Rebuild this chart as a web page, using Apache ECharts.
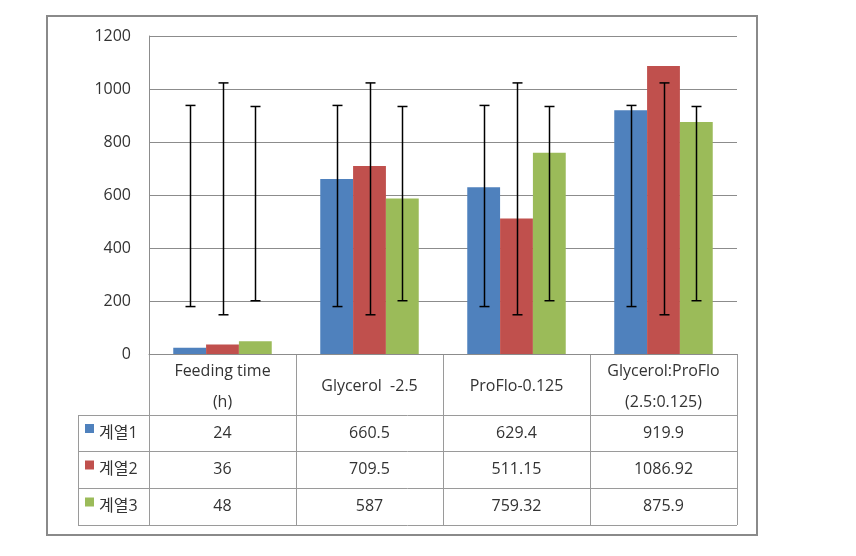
<!DOCTYPE html>
<html><head><meta charset="utf-8">
<script src="https://cdn.jsdelivr.net/npm/echarts@6/dist/echarts.min.js"></script>
<style>html,body{margin:0;padding:0;background:#fff}#c{width:856px;height:556px}</style>
</head><body><div id="c"></div>
<script>
const categories = ['Feeding time\n(h)', 'Glycerol  -2.5', 'ProFlo-0.125', 'Glycerol:ProFlo\n(2.5:0.125)'];
const seriesNames = ['계열1', '계열2', '계열3'];
const series1 = [24, 660.5, 629.4, 919.9];
const series2 = [36, 709.5, 511.15, 1086.92];
const series3 = [48, 587, 759.32, 875.9];
const errLow = [179, 148, 201];
const errHigh = [938, 1023, 934];
const yMin = 0, yMax = 1200, yStep = 200;
const colors = ['#4F81BD', '#C0504D', '#9BBB59'];

const allSeries = [series1, series2, series3];
const FONT = '"Open Sans", "Noto Sans CJK KR", sans-serif';
const FS = 16;
const TXT = '#333333';
const GRID = '#8c8c8c';
const GAP = 0.33;

const chart = echarts.init(document.getElementById('c'), null, {renderer: 'canvas'});

function errSeries(si) {
  return {
    type: 'custom', z: 10, silent: true,
    data: categories.map((c, i) => [i, errLow[si], errHigh[si]]),
    encode: {x: 0, y: [1, 2]},
    renderItem(params, api) {
      const i = api.value(0);
      const lo = api.coord([i, api.value(1)]);
      const hi = api.coord([i, api.value(2)]);
      const band = api.size([1, 0])[0];
      const bw = band * (1 - GAP) / 3;
      const x = Math.round(lo[0] + (si - 1) * bw) + 0.5;
      const cap = 5;
      const st = {stroke: '#000', lineWidth: 1.5};
      return {type: 'group', children: [
        {type: 'line', shape: {x1: x, y1: hi[1], x2: x, y2: lo[1]}, style: st},
        {type: 'line', shape: {x1: x - cap, y1: hi[1], x2: x + cap, y2: hi[1]}, style: st},
        {type: 'line', shape: {x1: x - cap, y1: lo[1], x2: x + cap, y2: lo[1]}, style: st}
      ]};
    }
  };
}

const option = {
  animation: false,
  textStyle: {fontFamily: FONT},
  grid: {left: 149, right: 119, top: 36, bottom: 202},
  xAxis: {
    type: 'category', data: categories,
    axisLine: {show: true, lineStyle: {color: GRID, width: 1}},
    axisTick: {show: false}, axisLabel: {show: false}, splitLine: {show: false}
  },
  yAxis: {
    type: 'value', min: yMin, max: yMax, interval: yStep,
    axisLine: {show: true, lineStyle: {color: GRID, width: 1}},
    axisTick: {show: false},
    axisLabel: {color: TXT, fontSize: FS, fontFamily: FONT, margin: 18, formatter: v => String(v)},
    splitLine: {lineStyle: {color: GRID, width: 1}}
  },
  series: allSeries.map((d, si) => ({
    type: 'bar', name: seriesNames[si], data: d,
    barGap: 0, barCategoryGap: (GAP * 100) + '%',
    itemStyle: {color: colors[si]}
  })).concat([0, 1, 2].map(errSeries))
};
chart.setOption(option);

// Data table drawn below the plot, aligned on the category axis
const centers = categories.map((c, i) => chart.convertToPixel({xAxisIndex: 0}, i));
const band = centers.length > 1 ? centers[1] - centers[0] : 147;
const leftX = centers[0] - band / 2;
const rightX = centers[centers.length - 1] + band / 2;
const tableLeft = 78;
const axisY = chart.convertToPixel({yAxisIndex: 0}, 0);
const rowY = [axisY, 415, 451, 488, 525];
const lineStyle = {stroke: '#9a9a9a', lineWidth: 1};
const g = [];
g.push({type: 'rect', shape: {x: 47, y: 16, width: 710, height: 519}, style: {fill: 'none', stroke: '#8a8a8a', lineWidth: 2}, z: 1});
for (let r = 1; r < rowY.length; r++) {
  g.push({type: 'line', shape: {x1: tableLeft, y1: rowY[r] + 0.5, x2: rightX, y2: rowY[r] + 0.5}, style: lineStyle});
}
g.push({type: 'line', shape: {x1: tableLeft + 0.5, y1: rowY[1], x2: tableLeft + 0.5, y2: rowY[4]}, style: lineStyle});
for (let i = 0; i <= categories.length; i++) {
  const x = Math.round(leftX + i * band) + 0.5;
  g.push({type: 'line', shape: {x1: x, y1: axisY, x2: x, y2: rowY[4]}, style: lineStyle});
}
categories.forEach((c, i) => {
  g.push({type: 'text', x: centers[i], y: (rowY[0] + rowY[1]) / 2 + 2,
    style: {text: c, fill: TXT, font: FS + 'px ' + FONT, align: 'center', verticalAlign: 'middle', lineHeight: 31}});
});
allSeries.forEach((d, si) => {
  const cy = (rowY[si + 1] + rowY[si + 2]) / 2;
  g.push({type: 'rect', shape: {x: 85, y: cy - 9, width: 9, height: 9}, style: {fill: colors[si]}});
  g.push({type: 'text', x: 99, y: cy, style: {text: seriesNames[si], fill: TXT, font: FS + 'px ' + FONT, align: 'left', verticalAlign: 'middle'}});
  d.forEach((v, i) => {
    g.push({type: 'text', x: centers[i], y: cy, style: {text: String(v), fill: TXT, font: FS + 'px ' + FONT, align: 'center', verticalAlign: 'middle'}});
  });
});
chart.setOption({graphic: g});
</script></body></html>
